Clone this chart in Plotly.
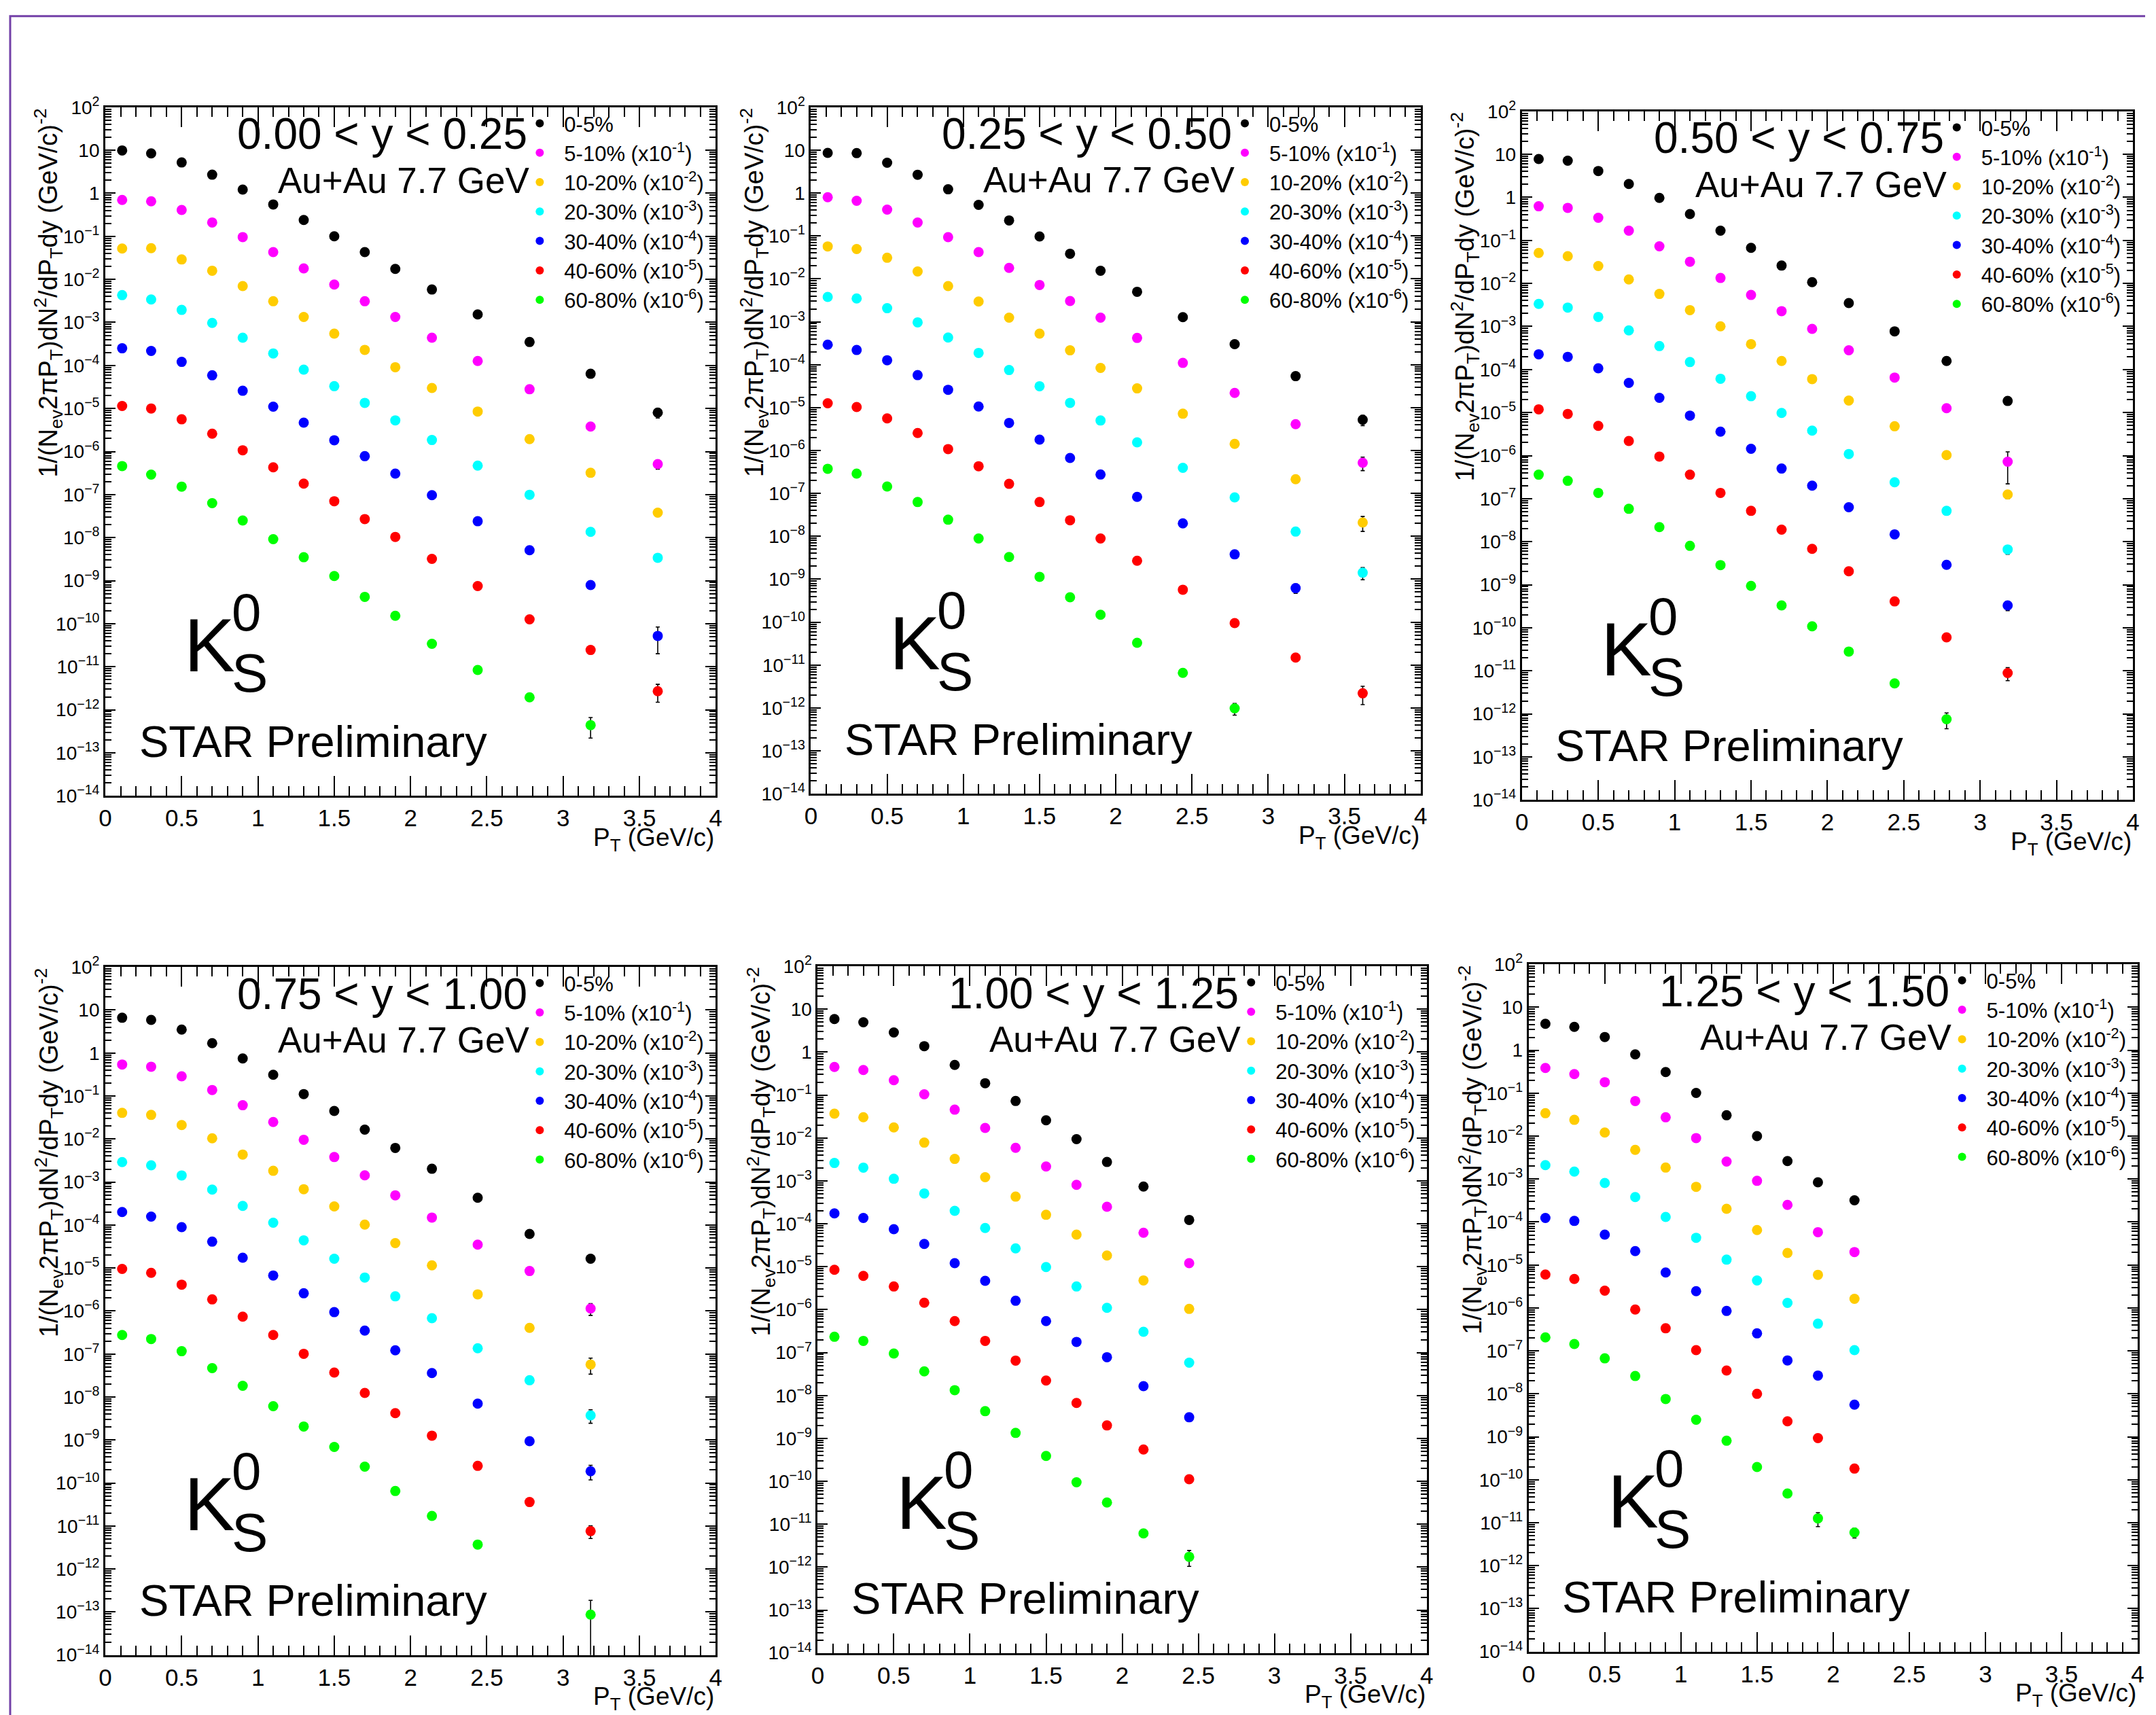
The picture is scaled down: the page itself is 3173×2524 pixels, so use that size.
import plotly.graph_objects as go

W, H = 3173, 2524          # target picture size
OX = 8                     # horizontal page offset of the figure
SY, OY = 0.9863, 16.4      # vertical page mapping observed for the capture
FW, FH = W - 2 * OX, 2540
FONT = "Liberation Sans, Arial, Helvetica, sans-serif"

# ---------------- data ----------------
pT = [0.11, 0.3, 0.5, 0.7, 0.9, 1.1, 1.3, 1.5, 1.7, 1.9, 2.14, 2.44, 2.78, 3.18, 3.62]

rapidity_labels = ["0.00 < y < 0.25", "0.25 < y < 0.50", "0.50 < y < 0.75",
                   "0.75 < y < 1.00", "1.00 < y < 1.25", "1.25 < y < 1.50"]
centrality_labels = ["0-5%", "5-10% (x10<sup>-1</sup>)", "10-20% (x10<sup>-2</sup>)",
                     "20-30% (x10<sup>-3</sup>)", "30-40% (x10<sup>-4</sup>)",
                     "40-60% (x10<sup>-5</sup>)", "60-80% (x10<sup>-6</sup>)"]
colors = ["#000000", "#ff00ff", "#ffcc00", "#00ffff", "#0000ff", "#ff0000", "#00ff00"]

# panel 1 : 0.00 < y < 0.25
p1_0_5 = [9.9, 8.45, 5.2, 2.7, 1.22, 0.55, 0.24, 0.10, 0.043, 0.0175, 5.8e-3, 1.53e-3, 3.5e-4, 6.4e-5, 8.0e-6]
p1_5_10 = [0.70, 0.65, 0.41, 0.21, 0.096, 0.043, 0.018, 7.6e-3, 3.1e-3, 1.34e-3, 4.4e-4, 1.27e-4, 2.8e-5, 3.8e-6, 5.1e-7]
p1_10_20 = [0.052, 0.053, 0.029, 0.0159, 7.0e-3, 3.1e-3, 1.34e-3, 5.5e-4, 2.3e-4, 9.1e-5, 3.0e-5, 8.5e-6, 1.94e-6, 3.2e-7, 3.8e-8]
p1_20_30 = [4.3e-3, 3.4e-3, 1.95e-3, 9.7e-4, 4.4e-4, 1.9e-4, 8.0e-5, 3.3e-5, 1.35e-5, 5.3e-6, 1.85e-6, 4.7e-7, 9.9e-8, 1.36e-8, 3.4e-9]
p1_30_40 = [2.5e-4, 2.17e-4, 1.21e-4, 5.9e-5, 2.58e-5, 1.1e-5, 4.7e-6, 1.83e-6, 7.8e-7, 3.07e-7, 9.7e-8, 2.4e-8, 5.1e-9, 7.9e-10, 5.2e-11]
p1_40_60 = [1.14e-5, 1.0e-5, 5.6e-6, 2.6e-6, 1.07e-6, 4.3e-7, 1.8e-7, 7.0e-8, 2.7e-8, 1.04e-8, 3.2e-9, 7.5e-10, 1.26e-10, 2.45e-11, 2.7e-12]
p1_60_80 = [4.6e-7, 2.9e-7, 1.53e-7, 6.3e-8, 2.5e-8, 9.2e-9, 3.5e-9, 1.28e-9, 4.2e-10, 1.53e-10, 3.4e-11, 8.4e-12, 1.95e-12, 4.4e-13, None]
p1_last_err = [2.0e-6, 1.2e-7, 7e-9, 5e-10, 3.2e-11, 1.2e-12, 2.2e-13]

# panel 2 : 0.25 < y < 0.50
p2_0_5 = [8.6, 8.5, 5.07, 2.67, 1.22, 0.53, 0.23, 0.097, 0.0385, 0.0154, 5.0e-3, 1.28e-3, 3.0e-4, 5.4e-5, 5.2e-6]
p2_5_10 = [0.80, 0.66, 0.41, 0.205, 0.094, 0.042, 0.018, 7.2e-3, 3.05e-3, 1.25e-3, 4.2e-4, 1.1e-4, 2.2e-5, 4.1e-6, 5.2e-7]
p2_10_20 = [0.057, 0.0495, 0.031, 0.0149, 6.8e-3, 2.96e-3, 1.25e-3, 5.3e-4, 2.16e-4, 8.4e-5, 2.8e-5, 7.2e-6, 1.43e-6, 2.15e-7, 2.1e-8]
p2_20_30 = [3.8e-3, 3.5e-3, 2.07e-3, 9.7e-4, 4.3e-4, 1.88e-4, 7.5e-5, 3.15e-5, 1.29e-5, 5.0e-6, 1.55e-6, 3.96e-7, 8.1e-8, 1.29e-8, 1.42e-9]
p2_30_40 = [2.93e-4, 2.2e-4, 1.27e-4, 5.7e-5, 2.6e-5, 1.06e-5, 4.4e-6, 1.79e-6, 6.7e-7, 2.76e-7, 8.3e-8, 2.0e-8, 3.8e-9, 6.2e-10, None]
p2_40_60 = [1.26e-5, 1.03e-5, 5.6e-6, 2.56e-6, 1.08e-6, 4.3e-7, 1.67e-7, 6.3e-8, 2.37e-8, 8.9e-9, 2.7e-9, 5.7e-10, 9.5e-11, 1.5e-11, 2.2e-12]
p2_60_80 = [3.75e-7, 2.9e-7, 1.45e-7, 6.3e-8, 2.44e-8, 8.9e-9, 3.3e-9, 1.14e-9, 3.8e-10, 1.49e-10, 3.3e-11, 6.6e-12, 9.8e-13, None, None]
p2_last_err = [1.4e-6, 1.8e-7, 8e-9, 4.5e-10, 1.5e-10, 1.0e-12, 3e-13]

# panel 3 : 0.50 < y < 0.75
p3_0_5 = [7.8, 7.1, 4.1, 2.05, 0.97, 0.41, 0.168, 0.067, 0.026, 0.0107, 3.5e-3, 7.7e-4, 1.58e-4, 1.86e-5, None]
p3_5_10 = [0.62, 0.57, 0.336, 0.168, 0.073, 0.032, 0.0134, 5.4e-3, 2.27e-3, 8.8e-4, 2.8e-4, 6.5e-5, 1.26e-5, 7.2e-7, None]
p3_10_20 = [0.051, 0.043, 0.0254, 0.0124, 5.7e-3, 2.4e-3, 1.01e-3, 3.9e-4, 1.58e-4, 6.0e-5, 1.9e-5, 4.8e-6, 1.03e-6, 1.25e-7, None]
p3_20_30 = [3.35e-3, 2.75e-3, 1.67e-3, 8.1e-4, 3.5e-4, 1.49e-4, 6.1e-5, 2.4e-5, 9.8e-6, 3.8e-6, 1.09e-6, 2.4e-7, 5.2e-8, 6.6e-9, None]
p3_30_40 = [2.26e-4, 1.97e-4, 1.07e-4, 4.9e-5, 2.2e-5, 8.5e-6, 3.6e-6, 1.44e-6, 5.0e-7, 2.0e-7, 6.3e-8, 1.48e-8, 2.9e-9, 3.3e-10, None]
p3_40_60 = [1.19e-5, 9.3e-6, 4.9e-6, 2.19e-6, 9.5e-7, 3.6e-7, 1.36e-7, 5.2e-8, 1.9e-8, 6.8e-9, 2.05e-9, 4.1e-10, 6.0e-11, 8.9e-12, None]
p3_60_80 = [3.6e-7, 2.6e-7, 1.36e-7, 5.8e-8, 2.18e-8, 8.0e-9, 2.86e-9, 9.4e-10, 3.3e-10, 1.08e-10, 2.8e-11, 5.1e-12, 7.5e-13, None, None]
p3_last_err = [3.5e-6, 5.0e-7, 2.5e-8, 1.5e-9, 8e-11, 3e-12, 3e-13]

# panel 4 : 0.75 < y < 1.00
p4_0_5 = [6.6, 5.9, 3.5, 1.69, 0.745, 0.312, 0.111, 0.045, 0.0165, 6.2e-3, 2.03e-3, 4.3e-4, 6.2e-5, 1.64e-5, None]
p4_5_10 = [0.54, 0.48, 0.288, 0.138, 0.061, 0.0248, 9.6e-3, 3.8e-3, 1.43e-3, 4.9e-4, 1.49e-4, 3.5e-5, 8.5e-6, 1.14e-6, None]
p4_10_20 = [0.0405, 0.0363, 0.0211, 0.0104, 4.35e-3, 1.82e-3, 6.8e-4, 2.7e-4, 1.02e-4, 3.8e-5, 1.15e-5, 2.44e-6, 4.06e-7, 5.7e-8, None]
p4_20_30 = [2.9e-3, 2.45e-3, 1.42e-3, 6.65e-4, 2.78e-4, 1.13e-4, 4.4e-5, 1.64e-5, 6.0e-6, 2.19e-6, 6.8e-7, 1.36e-7, 2.45e-8, 3.75e-9, None]
p4_30_40 = [2.0e-4, 1.57e-4, 8.9e-5, 4.1e-5, 1.73e-5, 6.7e-6, 2.58e-6, 9.4e-7, 3.5e-7, 1.22e-7, 3.6e-8, 7.0e-9, 9.4e-10, 1.88e-10, None]
p4_40_60 = [9.5e-6, 7.7e-6, 4.1e-6, 1.86e-6, 7.4e-7, 2.77e-7, 1.01e-7, 3.7e-8, 1.24e-8, 4.2e-9, 1.26e-9, 2.5e-10, 3.6e-11, 7.6e-12, None]
p4_60_80 = [2.77e-7, 2.23e-7, 1.16e-7, 4.7e-8, 1.82e-8, 6.1e-9, 2.06e-9, 6.9e-10, 2.4e-10, 6.5e-11, 1.71e-11, 3.7e-12, None, 8.7e-14, None]
p4_last_err = [3.0e-6, 3.5e-7, 2.3e-8, 1.3e-9, 7e-11, 2.5e-12, 1.0e-13]

# panel 5 : 1.00 < y < 1.25
p5_0_5 = [5.9, 4.97, 2.88, 1.38, 0.505, 0.189, 0.0727, 0.0258, 9.4e-3, 2.76e-3, 7.4e-4, 1.23e-4]
p5_5_10 = [0.452, 0.384, 0.222, 0.104, 0.0457, 0.0171, 5.9e-3, 2.16e-3, 8.1e-4, 2.5e-4, 6.2e-5, 1.21e-5]
p5_10_20 = [0.0368, 0.0304, 0.0176, 7.8e-3, 3.25e-3, 1.22e-3, 4.3e-4, 1.62e-4, 5.6e-5, 1.82e-5, 4.8e-6, 1.04e-6]
p5_20_30 = [2.61e-3, 2.04e-3, 1.12e-3, 5.1e-4, 2.01e-4, 8.0e-5, 2.67e-5, 9.8e-6, 3.46e-6, 1.1e-6, 3.05e-7, 5.8e-8]
p5_30_40 = [1.75e-4, 1.37e-4, 7.5e-5, 3.4e-5, 1.21e-5, 4.7e-6, 1.61e-6, 5.4e-7, 1.77e-7, 7.8e-8, 1.65e-8, 3.1e-9]
p5_40_60 = [8.5e-6, 6.1e-6, 3.46e-6, 1.45e-6, 5.4e-7, 1.87e-7, 6.5e-8, 2.23e-8, 6.7e-9, 2.0e-9, 5.5e-10, 1.12e-10]
p5_60_80 = [2.33e-7, 1.87e-7, 9.5e-8, 3.64e-8, 1.33e-8, 4.3e-9, 1.34e-9, 3.9e-10, 9.5e-11, 3.2e-11, 6.1e-12, 1.74e-12]
p5_last_err = [0, 0, 0, 0, 0, 0, 0.7e-12]

# panel 6 : 1.25 < y < 1.50
p6_0_5 = [4.12, 3.5, 2.03, 0.80, 0.31, 0.101, 0.0306, 0.01, 2.63e-3, 8.4e-4, 3.2e-4]
p6_5_10 = [0.385, 0.278, 0.18, 0.0656, 0.0274, 9.0e-3, 2.56e-3, 9.1e-4, 2.5e-4, 5.8e-5, 2.0e-5]
p6_10_20 = [0.0341, 0.0239, 0.0121, 4.79e-3, 1.85e-3, 6.6e-4, 2.03e-4, 6.5e-5, 1.9e-5, 5.9e-6, 1.63e-6]
p6_20_30 = [2.11e-3, 1.49e-3, 8.1e-4, 3.8e-4, 1.31e-4, 4.3e-5, 1.33e-5, 4.36e-6, 1.31e-6, 4.3e-7, 1.04e-7]
p6_30_40 = [1.24e-4, 1.06e-4, 5.1e-5, 2.11e-5, 6.7e-6, 2.46e-6, 8.5e-7, 2.56e-7, 6.0e-8, 2.67e-8, 5.6e-9]
p6_40_60 = [6.0e-6, 4.73e-6, 2.52e-6, 9.2e-7, 3.36e-7, 1.04e-7, 3.5e-8, 1.0e-8, 2.3e-9, 9.3e-10, 1.82e-10]
p6_60_80 = [2.06e-7, 1.45e-7, 6.7e-8, 2.6e-8, 7.6e-9, 2.49e-9, 8.1e-10, 1.98e-10, 4.8e-11, 1.26e-11, 5.9e-12]
p6_60_80_err = [0, 0, 0, 0, 0, 0, 0, 0, 0, 0.45e-11, 1.5e-12]
p6_last_err = [0, 0, 0, 0, 0, 0, 1.5e-12]

panels = [
    (rapidity_labels[0], [p1_0_5, p1_5_10, p1_10_20, p1_20_30, p1_30_40, p1_40_60, p1_60_80], p1_last_err),
    (rapidity_labels[1], [p2_0_5, p2_5_10, p2_10_20, p2_20_30, p2_30_40, p2_40_60, p2_60_80], p2_last_err),
    (rapidity_labels[2], [p3_0_5, p3_5_10, p3_10_20, p3_20_30, p3_30_40, p3_40_60, p3_60_80], p3_last_err),
    (rapidity_labels[3], [p4_0_5, p4_5_10, p4_10_20, p4_20_30, p4_30_40, p4_40_60, p4_60_80], p4_last_err),
    (rapidity_labels[4], [p5_0_5, p5_5_10, p5_10_20, p5_20_30, p5_30_40, p5_40_60, p5_60_80], p5_last_err),
    (rapidity_labels[5], [p6_0_5, p6_5_10, p6_10_20, p6_20_30, p6_30_40, p6_40_60, p6_60_80], p6_last_err),
]

x_tickvals = [0, 0.5, 1, 1.5, 2, 2.5, 3, 3.5, 4]
x_ticktext = ["0", "0.5", "1", "1.5", "2", "2.5", "3", "3.5", "4"]
y_exponents = list(range(-14, 3))

# ---------------- layout geometry (target pixel boxes: left, right, top, bottom) ----------------
boxes = [(154, 1058, 154, 1168), (1199, 2102, 154, 1165), (2252, 3157, 160, 1174),
         (154, 1058, 1420, 2433), (1209, 2111, 1419, 2430), (2262, 3164, 1416, 2428)]


def fx(x):   # target x pixel -> paper fraction
    return (x - OX) / FW


def fy(y):   # target y pixel -> paper fraction
    return 1 - (y / SY - OY) / FH


x_minor = [round(i * 0.1, 1) for i in range(1, 40) if i % 5 != 0]
y_minor = [m * 10.0 ** e for e in range(-14, 2) for m in range(2, 10)]


def ytext(e):
    if e == 0:
        return "1"
    if e == 1:
        return "10"
    return "10<sup>%s</sup>" % (str(e).replace("-", "\u2212"))


fig = go.Figure()
layout = dict(width=FW, height=FH, margin=dict(l=0, r=0, t=0, b=0),
              paper_bgcolor="white", plot_bgcolor="white",
              font=dict(family=FONT, color="black"), annotations=[], shapes=[])

for k, ((label, series, last_err), box) in enumerate(zip(panels, boxes), start=1):
    sfx = "" if k == 1 else str(k)
    xa, ya, lg = "x" + sfx, "y" + sfx, "legend" + sfx
    l, r, t, b = box
    pw, ph = r - l, b - t

    for j, vals in enumerate(series):
        xs = [x for x, v in zip(pT, vals) if v is not None]
        ys = [v for v in vals if v is not None]
        if k == 6 and j == 6:
            err = p6_60_80_err
        else:
            err = [0.0] * (len(ys) - 1) + [last_err[j]]
        fig.add_trace(go.Scatter(
            x=xs, y=ys, mode="markers", name=centrality_labels[j],
            marker=dict(color=colors[j], size=15, line=dict(width=0)),
            error_y=dict(type="data", array=err, color="black", thickness=1.6, width=3),
            xaxis=xa, yaxis=ya, legend=lg, legendgroup="g%d_%d" % (k, j), showlegend=True))

    layout["xaxis" + sfx] = dict(
        domain=[fx(l), fx(r)], anchor=ya, range=[0, 4], tickmode="array",
        tickvals=x_tickvals, ticktext=x_ticktext, ticks="inside", ticklen=29, tickwidth=2,
        tickcolor="black", mirror="allticks", showline=True, linecolor="black", linewidth=3,
        showgrid=False, zeroline=False, tickfont=dict(size=35, family=FONT, color="black"),
        minor=dict(ticks="inside", ticklen=14, tickwidth=2, tickcolor="black",
                   tickmode="array", tickvals=x_minor, showgrid=False))
    layout["yaxis" + sfx] = dict(
        domain=[fy(b), fy(t)], anchor=xa, type="log", range=[-14, 2], tickmode="array",
        tickvals=[10.0 ** e for e in y_exponents], ticktext=[ytext(e) for e in y_exponents],
        ticks="inside", ticklen=15, tickwidth=2, tickcolor="black", mirror="allticks",
        showline=True, linecolor="black", linewidth=3, showgrid=False, zeroline=False,
        tickfont=dict(size=28, family=FONT, color="black"),
        minor=dict(ticks="inside", ticklen=9, tickwidth=2, tickcolor="black",
                   tickmode="array", tickvals=y_minor, showgrid=False))

    # legend
    layout[lg] = dict(x=fx(l + 0.707 * pw - 32), y=fy(t - 3), xanchor="left",
                      yanchor="top", xref="paper", yref="paper",
                      bgcolor="rgba(0,0,0,0)", borderwidth=0, itemsizing="constant", itemwidth=62,
                      tracegroupgap=0, font=dict(size=31, family=FONT, color="black"))

    xd, yd = xa + " domain", ya + " domain"
    ann = layout["annotations"]
    ann.append(dict(text=label, xref=xd, yref=yd, x=0.693, y=0.961, xanchor="right", yanchor="middle",
                    showarrow=False, font=dict(size=64, family=FONT, color="black")))
    ann.append(dict(text="Au+Au 7.7 GeV", xref=xd, yref=yd, x=0.697, y=0.894, xanchor="right",
                    yanchor="middle", showarrow=False, font=dict(size=53, family=FONT, color="black")))
    ann.append(dict(text="K", xref=xd, yref=yd, x=0.127, y=0.219, xanchor="left", yanchor="middle",
                    showarrow=False, font=dict(size=112, family=FONT, color="black")))
    ann.append(dict(text="0", xref=xd, yref=yd, x=0.205, y=0.267, xanchor="left", yanchor="middle",
                    showarrow=False, font=dict(size=78, family=FONT, color="black")))
    ann.append(dict(text="S", xref=xd, yref=yd, x=0.205, y=0.178, xanchor="left", yanchor="middle",
                    showarrow=False, font=dict(size=80, family=FONT, color="black")))
    ann.append(dict(text="STAR Preliminary", xref=xd, yref=yd, x=0.053, y=0.079, xanchor="left",
                    yanchor="middle", showarrow=False, font=dict(size=65, family=FONT, color="black")))
    ann.append(dict(text="1/(N<sub>ev</sub>2\u03c0P<sub>T</sub>)dN<sup>2</sup>/dP<sub>T</sub>dy (GeV/c)<sup>-2</sup>",
                    xref=xd, yref=yd, x=-0.093, y=1.0, xanchor="center", yanchor="top", textangle=-90,
                    showarrow=False, font=dict(size=38, family=FONT, color="black")))
    ann.append(dict(text="P<sub>T</sub> (GeV/c)", xref=xd, yref=yd, x=1.0, y=-0.063, xanchor="right",
                    yanchor="middle", showarrow=False, font=dict(size=37, family=FONT, color="black")))

# purple page frame
layout["shapes"].append(dict(type="rect", xref="paper", yref="paper", x0=fx(13), x1=fx(W + 40),
                             y0=fy(H + 60), y1=fy(20), line=dict(color="#7340a8", width=3),
                             fillcolor="rgba(0,0,0,0)", layer="above"))

fig.update_layout(**layout)
fig.write_html("out.html")
